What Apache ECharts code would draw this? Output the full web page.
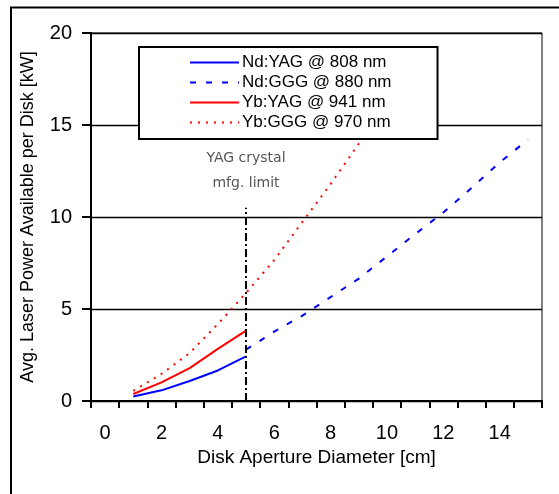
<!DOCTYPE html>
<html>
<head>
<meta charset="utf-8">
<script src="https://cdn.jsdelivr.net/npm/echarts@6/dist/echarts.min.js"></script>
<style>
  html, body { margin: 0; padding: 0; background: #fff; }
  #chart { width: 559px; height: 494px; }
</style>
</head>
<body>
<div id="chart"></div>
<script>
// disk aperture diameter [cm], one category per cm
var diameters = ['0','1','2','3','4','5','6','7','8','9','10','11','12','13','14','15'];
// available power per disk [kW]
var ndYag = [null, 0.25, 0.58, 1.09, 1.66, 2.42];
var ndGgg = [null, null, null, null, null, 2.79, 3.77, 4.64, 5.65, 6.65, 7.86, 9.07, 10.25, 11.58, 12.97, 14.2];
var ybYag = [null, 0.38, 1.01, 1.79, 2.83, 3.82];
var ybGgg = [null, 0.55, 1.47, 2.61, 4.18, 5.87, 7.66, 9.73, 11.79, 13.98, 16.3];
var seriesNames = ['Nd:YAG @ 808 nm', 'Nd:GGG @ 880 nm', 'Yb:YAG @ 941 nm', 'Yb:GGG @ 970 nm'];
// YAG crystal manufacturing limit
var yagLimit = '5';
var yagLimitTop = 10.5;

var font = 'Liberation Sans, Arial, sans-serif';
var chart = echarts.init(document.getElementById('chart'));

var option = {
  backgroundColor: '#fff',
  animation: false,
  textStyle: { fontFamily: font, color: '#000' },
  graphic: [{
    // outer frame of the picture
    type: 'rect',
    silent: true,
    shape: { x: 11, y: 7.5, width: 600, height: 600 },
    style: { fill: null, stroke: '#000', lineWidth: 2 }
  }],
  grid: {
    left: 91, right: 17, top: 33, bottom: 93,
    show: true, borderColor: '#000', borderWidth: 1
  },
  legend: {
    orient: 'vertical',
    left: 139, top: 47,
    padding: [7, 46, 8, 50],
    itemWidth: 49, itemHeight: 14, itemGap: 3,
    selectedMode: false,
    backgroundColor: '#fff',
    borderColor: '#000', borderWidth: 2,
    itemStyle: { opacity: 0 },
    textStyle: { fontSize: 17, lineHeight: 17, fontFamily: font, color: '#000', padding: [0, 0, 0, -2] },
    data: seriesNames
  },
  xAxis: {
    type: 'category',
    data: diameters,
    boundaryGap: true,
    name: 'Disk Aperture Diameter [cm]',
    nameLocation: 'middle',
    nameGap: 42,
    nameTextStyle: { fontSize: 19, color: '#000', fontFamily: font },
    axisLine: { lineStyle: { color: '#000', width: 2 } },
    axisTick: { show: true, interval: 0, length: 7, lineStyle: { color: '#000', width: 2 } },
    axisLabel: { interval: 1, fontSize: 20, color: '#000', margin: 22, fontFamily: font },
    splitLine: { show: false }
  },
  yAxis: {
    type: 'value',
    min: 0, max: 20, interval: 5,
    name: 'Avg. Laser Power Available per Disk [kW]',
    nameLocation: 'middle',
    nameGap: 54,
    nameTextStyle: { fontSize: 18, color: '#000', fontFamily: font },
    axisLine: { show: true, lineStyle: { color: '#000', width: 2 } },
    axisTick: { show: true, length: 9, lineStyle: { color: '#000', width: 2 } },
    axisLabel: { fontSize: 20, color: '#000', margin: 19, fontFamily: font },
    splitLine: { show: true, lineStyle: { color: '#000', width: 1.3 } }
  },
  series: [
    {
      name: seriesNames[0],
      type: 'line',
      data: ndYag,
      symbol: 'none',
      color: '#0000ff',
      lineStyle: { color: '#0000ff', width: 2 },
      markLine: {
        silent: true,
        symbol: ['none', 'none'],
        lineStyle: { color: '#000', width: 2, type: [8, 3, 2, 3] },
        label: {
          show: true,
          position: 'end',
          distance: 12,
          formatter: 'YAG crystal\nmfg. limit',
          fontFamily: 'DejaVu Sans, sans-serif',
          fontSize: 14,
          lineHeight: 25,
          color: '#555'
        },
        data: [[{ coord: [yagLimit, 0] }, { coord: [yagLimit, yagLimitTop] }]]
      }
    },
    {
      name: seriesNames[1],
      type: 'line',
      data: ndGgg,
      symbol: 'none',
      color: '#0000ff',
      lineStyle: { color: '#0000ff', width: 2, type: [6, 10] }
    },
    {
      name: seriesNames[2],
      type: 'line',
      data: ybYag,
      symbol: 'none',
      color: '#ff0000',
      lineStyle: { color: '#ff0000', width: 2 }
    },
    {
      name: seriesNames[3],
      type: 'line',
      data: ybGgg,
      symbol: 'none',
      color: '#ff0000',
      lineStyle: { color: '#ff0000', width: 2, type: [2, 6] }
    }
  ]
};

chart.setOption(option);
</script>
</body>
</html>
